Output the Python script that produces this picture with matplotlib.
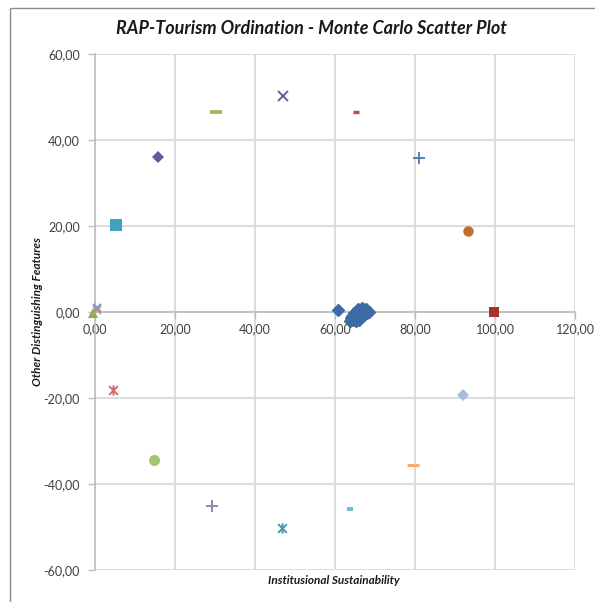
import matplotlib
matplotlib.use("Agg")
import matplotlib.pyplot as plt
from matplotlib.path import Path
from matplotlib.patches import Rectangle
from matplotlib.ticker import FuncFormatter, MultipleLocator

plt.rcParams['font.family'] = ['Lato', 'DejaVu Sans']

# main cluster of Monte Carlo runs (blue diamonds)
cluster_x = [60.8, 63.8, 64.5, 65.2, 64.3, 65.0, 65.8, 66.5, 65.5, 66.2, 67.0,
             67.5, 68.0, 67.2, 66.8, 65.8, 66.0, 64.8, 67.8, 63.9, 68.4]
cluster_y = [0.5, -2.0, -1.8, -2.0, -1.0, -0.8, -1.2, -0.5, 0.0, 0.5, 0.8,
             0.2, -0.3, -0.8, 1.0, 0.8, -1.8, -0.2, 0.6, -1.3, 0.0]

# reference points: (x, y)
ref_names = ['good', 'anchor_g', 'anchor_o', 'anchor_b', 'up_x', 'down_star',
             'right_c', 'upright_plus', 'up_dash_r', 'up_dash_g', 'upleft_d', 'left_sq',
             'left_star', 'lowleft_c', 'low_plus', 'low_dash_b', 'lowright_dash', 'lowright_d']
ref_x = [99.8, -0.5, 0.6, 0.5, 47.0, 46.8,
         93.2, 81.0, 65.3, 30.3, 15.8, 5.2,
         4.5, 14.8, 29.3, 63.8, 79.5, 92.0]
ref_y = [0.0, -0.3, 0.5, 1.0, 50.2, -50.2,
         18.8, 35.8, 46.5, 46.5, 36.0, 20.2,
         -18.1, -34.4, -45.1, -45.8, -35.6, -19.3]

star = Path([(-1, -1), (1, 1), (-1, 1), (1, -1), (0, -1.2), (0, 1.2)],
            [Path.MOVETO, Path.LINETO, Path.MOVETO, Path.LINETO, Path.MOVETO, Path.LINETO])

# marker style for each reference point: (marker, color, size, edge width)
styles = {
    'good': ('s', '#A5322E', 7.5, 0),
    'anchor_g': ('^', '#8BAF4E', 7, 0),
    'anchor_o': ('x', '#F0964A', 6, 1.5),
    'anchor_b': ('x', '#7C9BCF', 6, 1.5),
    'up_x': ('x', '#6E5A96', 7, 1.4),
    'down_star': (star, '#3F9DB5', 7.5, 1.4),
    'right_c': ('o', '#C0702E', 7.5, 0),
    'upright_plus': ('+', '#4F81BD', 8, 1.4),
    'up_dash_r': ('_', '#C0504D', 4.5, 2.5),
    'up_dash_g': ('_', '#9BBB59', 9, 2.8),
    'upleft_d': ('D', '#6A5694', 6.5, 0),
    'left_sq': ('s', '#3EA3BC', 8, 0),
    'left_star': (star, '#D06E6C', 7.5, 1.4),
    'lowleft_c': ('o', '#A6C574', 8, 0),
    'low_plus': ('+', '#9983B5', 8, 1.4),
    'low_dash_b': ('_', '#6FBDD1', 4.5, 2.8),
    'lowright_dash': ('_', '#F9AB6B', 8, 2.2),
    'lowright_d': ('D', '#A9BCE0', 6.5, 0),
}

fig = plt.figure(figsize=(5.95, 6.02), dpi=100)
ax = fig.add_axes([95 / 595, 1 - 570 / 602, 480 / 595, 516 / 602])

ax.set_xlim(0, 120)
ax.set_ylim(-60, 60)
ax.xaxis.set_major_locator(MultipleLocator(20))
ax.yaxis.set_major_locator(MultipleLocator(20))
ax.grid(True, color='#D9D9D9', linewidth=1.3, zorder=0)

for s in ['top', 'right']:
    ax.spines[s].set_visible(False)
ax.spines['bottom'].set_position(('data', 0))
ax.spines['bottom'].set_color('#BFBFBF')
ax.spines['left'].set_color('#BFBFBF')
ax.spines['bottom'].set_linewidth(1.2)
ax.spines['left'].set_linewidth(1.2)

fmt = FuncFormatter(lambda v, p: f"{v:.2f}".replace('.', ','))
ax.xaxis.set_major_formatter(fmt)
ax.yaxis.set_major_formatter(fmt)
ax.tick_params(axis='both', colors='#BFBFBF', labelcolor='#404040', labelsize=9,
               length=5, width=1)
ax.tick_params(axis='x', pad=3)
ax.tick_params(axis='y', pad=6)

ax.plot(cluster_x, cluster_y, linestyle='none', marker='D', markersize=6,
        color='#3D6BA6', zorder=3, clip_on=False)

for name, x, y in zip(ref_names, ref_x, ref_y):
    m, c, ms, mew = styles[name]
    ax.plot([x], [y], linestyle='none', marker=m, markersize=ms, color=c,
            markeredgewidth=mew, zorder=4, clip_on=False)

fig.text(311 / 595, 1 - 28 / 602, 'RAP-Tourism Ordination - Monte Carlo Scatter Plot',
         ha='center', va='center', fontsize=13, fontweight='bold', fontstyle='italic',
         color='#1a1a1a')
fig.text(38 / 595, 1 - 312 / 602, 'Other Distinguishing Features', rotation=90,
         ha='center', va='center', fontsize=8.5, fontweight='bold', fontstyle='italic',
         color='#1a1a1a')
fig.text(334 / 595, 1 - 580 / 602, 'Institusional Sustainability',
         ha='center', va='center', fontsize=8.5, fontweight='bold', fontstyle='italic',
         color='#1a1a1a')

fig.patches.append(Rectangle((10 / 595, -0.1), 2, 1.1 - 8 / 602, transform=fig.transFigure,
                             fill=False, edgecolor='#8C8C8C', linewidth=1))

fig.savefig('out.png', dpi=100)
